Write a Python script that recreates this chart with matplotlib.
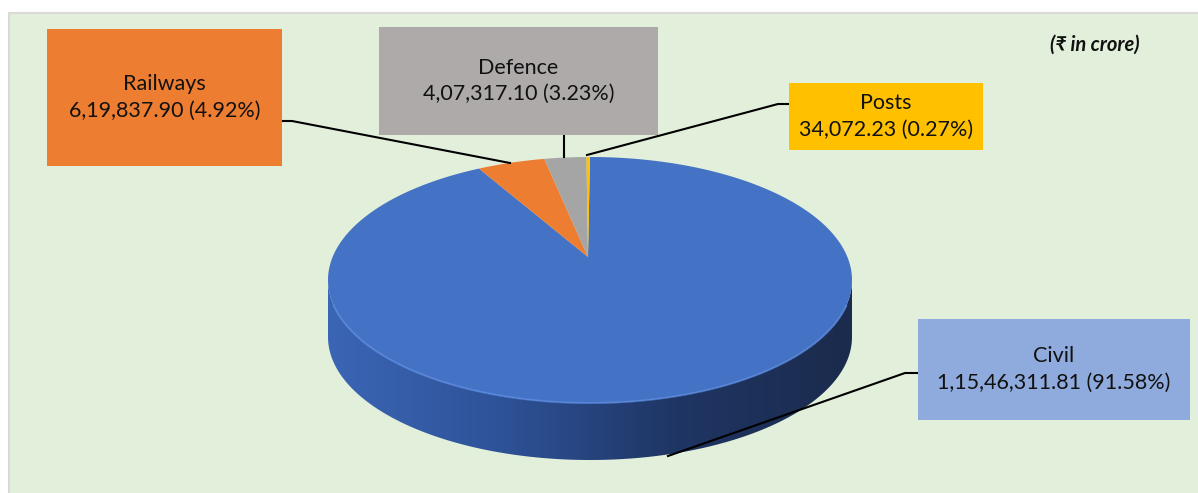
import numpy as np
import matplotlib.pyplot as plt
from matplotlib.patches import Polygon, Rectangle
from matplotlib.colors import LinearSegmentedColormap

plt.rcParams['font.family'] = ['Lato', 'DejaVu Sans']

# Data
categories = ['Civil', 'Railways', 'Defence', 'Posts']
values = [11546311.81, 619837.90, 407317.10, 34072.23]
colors = ['#4472C4', '#ED7D31', '#A5A5A5', '#FFC000']
box_colors = ['#8FAADC', '#ED7D31', '#AEAAAA', '#FFC000']
unit_note = '(₹ in crore)'


def indian_format(v):
    s = f"{v:.2f}"
    whole, dec = s.split('.')
    last3 = whole[-3:]
    rest = whole[:-3]
    groups = []
    while len(rest) > 2:
        groups.insert(0, rest[-2:])
        rest = rest[:-2]
    if rest:
        groups.insert(0, rest)
    return ','.join(groups + [last3]) + '.' + dec


W, H = 1198, 493
fig = plt.figure(figsize=(W / 100, H / 100), dpi=100)
ax = fig.add_axes([0, 0, 1, 1])
ax.set_xlim(0, W)
ax.set_ylim(H, 0)
ax.axis('off')

# plot area background
ax.add_patch(Rectangle((9, 13), W, H, facecolor='#E2EFDA', edgecolor='#D9D9D9', lw=1.5, zorder=0))

# pie geometry (pixels)
cx, cy = 590, 280
a, b = 262, 123
depth = 57
apex = (588, 257)


def arc(t1, t2, n=200, dy=0):
    t = np.linspace(t1, t2, n)
    # slight perspective warp: angles at the back look compressed
    t = np.radians(t - 6 * np.sin(np.radians(2 * t)))
    return np.column_stack([cx + a * np.sin(t), cy - b * np.cos(t) + dy])


# side of the pie (front half), with horizontal gradient
top_arc = arc(90, 270)
bot_arc = arc(270, 90, dy=depth)
side = Polygon(np.vstack([top_arc, bot_arc]), closed=True, facecolor='none', edgecolor='none')
ax.add_patch(side)
side_cmap = LinearSegmentedColormap.from_list('side', ['#3B66B5', '#2E5298', '#1F3563', '#1B2B4D'])
grad = np.linspace(0, 1, 256).reshape(1, -1)
im = ax.imshow(grad, cmap=side_cmap, extent=(cx - a, cx + a, cy + b + depth, cy - 10),
               aspect='auto', zorder=1)
im.set_clip_path(side)

# top face wedges, clockwise from 12 o'clock
total = sum(values)
fracs = [v / total for v in values]
start = 0.0
for frac, col in zip(fracs, colors):
    end = start + frac * 360
    pts = np.vstack([[apex], arc(start, end, n=max(10, int(frac * 600)))])
    ax.add_patch(Polygon(pts, closed=True, facecolor=col, edgecolor='none', zorder=2))
    start = end

# bevel highlight on the front edge
hl = arc(100, 260)
ax.plot(hl[:, 0], hl[:, 1], color='#5A8AE0', lw=1.5, alpha=0.7, zorder=3)

# label boxes: (x0, y0, x1, y1)
boxes = {
    'Civil': (918, 319, 1190, 420),
    'Railways': (47, 29, 282, 166),
    'Defence': (379, 27, 658, 135),
    'Posts': (789, 83, 983, 150),
}
# leader lines
leaders = {
    'Civil': [(918, 373), (905, 373), (668, 456)],
    'Railways': [(282, 121), (292, 121), (510, 163)],
    'Defence': [(564, 135), (564, 157)],
    'Posts': [(789, 104), (778, 104), (587, 155)],
}

for cat, val, frac, bc in zip(categories, values, fracs, box_colors):
    x0, y0, x1, y1 = boxes[cat]
    ax.add_patch(Rectangle((x0, y0), x1 - x0, y1 - y0, facecolor=bc, edgecolor='none', zorder=4))
    ax.text((x0 + x1) / 2, (y0 + y1) / 2,
            f"{cat}\n{indian_format(val)} ({frac * 100:.2f}%)",
            ha='center', va='center', fontsize=15.5, color='#111111', linespacing=1.4, zorder=5)
    pts = np.array(leaders[cat])
    ax.plot(pts[:, 0], pts[:, 1], color='black', lw=1.5, zorder=3.5)

ax.text(1095, 45, unit_note, ha='center', va='center', fontsize=14.5,
        fontweight='bold', fontstyle='italic', color='#111111', zorder=5)

fig.savefig('out.png', dpi=100)
